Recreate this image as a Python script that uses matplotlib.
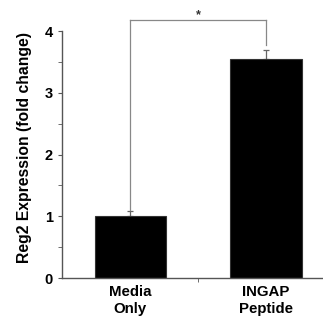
import matplotlib
matplotlib.use("Agg")
import matplotlib.pyplot as plt
from matplotlib.ticker import MultipleLocator

categories = ["Media\nOnly", "INGAP\nPeptide"]
values = [1.0, 3.55]
errors = [0.08, 0.15]
y_ticks = [0, 1, 2, 3, 4]
ylabel = "Reg2 Expression (fold change)"
sig_label = "*"
bracket_y = 4.18

plt.rcParams['font.family'] = ['Liberation Sans', 'DejaVu Sans']

fig = plt.figure(figsize=(3.23, 3.20), dpi=100)
ax = fig.add_axes([0.192, 0.131, 0.808, 0.772])

x = list(range(len(categories)))
ax.bar(x, values, width=0.525, color="black", edgecolor="#333333", linewidth=0.8, zorder=2)
ax.errorbar(x, values, yerr=[[0, 0], errors], fmt="none", ecolor="#666666",
            elinewidth=0.9, capsize=2, capthick=0.9, zorder=1)

# significance bracket
gray = "#888888"
ax.plot([0, 0], [values[0] + errors[0] + 0.02, bracket_y], color=gray, lw=0.9, clip_on=False)
ax.plot([0, 1], [bracket_y, bracket_y], color=gray, lw=0.9, clip_on=False)
ax.plot([1, 1], [bracket_y, values[1] + errors[1] + 0.08], color=gray, lw=0.9, clip_on=False)
ax.text(0.5, bracket_y - 0.02, sig_label, ha="center", va="bottom", fontsize=9,
        fontweight="bold", color="#333333", clip_on=False)

ax.set_xlim(-0.505, 1.42)
ax.set_ylim(0, 4)
ax.set_yticks(y_ticks)
ax.yaxis.set_minor_locator(MultipleLocator(0.5))
ax.set_xticks(x)
ax.set_xticklabels(categories, fontsize=10.8, fontweight="bold", linespacing=1.25)
ax.set_xticks([0.5], minor=True)
ax.tick_params(axis="x", which="major", length=0, pad=5)
ax.tick_params(axis="x", which="minor", length=3, direction="out", color="#555555")
ax.tick_params(axis="y", which="both", length=3, direction="out", color="#555555",
               labelsize=10.5)
for lbl in ax.get_yticklabels():
    lbl.set_fontweight("bold")
ax.set_ylabel(ylabel, fontsize=11.3, fontweight="bold")
ax.yaxis.set_label_coords(-0.115, 0.528)

for s in ["top", "right"]:
    ax.spines[s].set_visible(False)
for s in ["left", "bottom"]:
    ax.spines[s].set_color("#555555")
    ax.spines[s].set_linewidth(1.0)

fig.savefig("out.png", dpi=100)
